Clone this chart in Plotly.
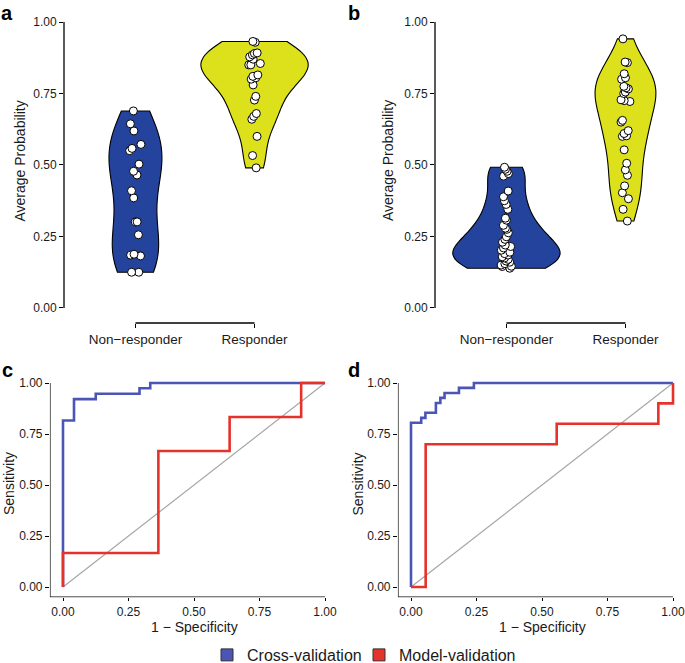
import numpy as np
import plotly.graph_objects as go

# ---------------- data ----------------
groups = ["Non\u2212responder", "Responder"]

a_nonresp = [0.689, 0.644, 0.619, 0.572, 0.558, 0.550, 0.503, 0.478, 0.465, 0.410,
             0.385, 0.301, 0.301, 0.256, 0.188, 0.185, 0.182, 0.125, 0.125]
a_resp = [0.932, 0.929, 0.892, 0.890, 0.885, 0.878, 0.870, 0.855, 0.850, 0.850,
          0.815, 0.810, 0.805, 0.800, 0.780, 0.740, 0.727, 0.680, 0.670, 0.660,
          0.600, 0.533, 0.490]

b_nonresp = [0.492, 0.485, 0.478, 0.470, 0.461, 0.409, 0.389, 0.375, 0.362, 0.345,
             0.314, 0.307, 0.289, 0.279, 0.275, 0.263, 0.249, 0.240, 0.230, 0.220,
             0.215, 0.210, 0.202, 0.195, 0.190, 0.185, 0.179, 0.175, 0.170, 0.164,
             0.160, 0.155, 0.150, 0.146, 0.145, 0.139]
b_resp = [0.941, 0.860, 0.858, 0.819, 0.805, 0.800, 0.775, 0.770, 0.766, 0.755,
          0.750, 0.728, 0.725, 0.722, 0.656, 0.650, 0.620, 0.610, 0.602, 0.600,
          0.553, 0.506, 0.483, 0.464, 0.427, 0.403, 0.382, 0.345, 0.304]

# ROC curves (1 - specificity, sensitivity), step corners
c_cv_fpr = [0.0, 0.0, 0.042, 0.125, 0.292, 0.333, 1.0]
c_cv_tpr = [0.0, 0.816, 0.921, 0.947, 0.974, 1.0, 1.0]
c_mv_fpr = [0.0, 0.0, 0.364, 0.636, 0.909, 1.0]
c_mv_tpr = [0.0, 0.167, 0.667, 0.833, 1.0, 1.0]

d_cv_fpr = [0.0, 0.0, 0.039, 0.055, 0.095, 0.112, 0.128, 0.183, 0.240, 1.0]
d_cv_tpr = [0.0, 0.805, 0.829, 0.854, 0.902, 0.927, 0.951, 0.976, 1.0, 1.0]
d_mv_fpr = [0.0, 0.056, 0.556, 0.944, 1.0]
d_mv_tpr = [0.0, 0.700, 0.800, 0.900, 1.0]

yticks = [0.0, 0.25, 0.5, 0.75, 1.0]
ytick_text = ["0.00", "0.25", "0.50", "0.75", "1.00"]

legend_names = ["Cross-validation", "Model-validation"]

# ---------------- style ----------------
W, H = 685, 663
FONT = "Liberation Sans, Arial, Helvetica, sans-serif"
VBLUE = "#24439C"
VYELLOW = "#DCE11B"
RBLUE = "#4A55B5"
RRED = "#E5322A"
TXT = "#1a1a1a"


def px_x(p):
    return p / W


def px_y(p):
    return 1 - p / H


def nrd0(v):
    v = np.asarray(v, float)
    sd = v.std(ddof=1)
    q75, q25 = np.percentile(v, [75, 25])
    lo = min(sd, (q75 - q25) / 1.34)
    return 0.9 * lo * len(v) ** -0.2


def kde_max(v, bw):
    v = np.asarray(v, float)
    g = np.linspace(v.min(), v.max(), 512)
    d = np.exp(-0.5 * ((g[:, None] - v[None, :]) / bw) ** 2).sum(1)
    return d.max() / (len(v) * bw * np.sqrt(2 * np.pi))


fig = go.Figure()


def add_violins(vals_list, xa, ya):
    bws = [nrd0(v) for v in vals_list]
    mx = [kde_max(v, b) for v, b in zip(vals_list, bws)]
    top = max(mx)
    for i, (v, bw, m) in enumerate(zip(vals_list, bws, mx)):
        w = 0.9 * m / top
        fig.add_trace(go.Violin(
            y=v, x0=i + 1, name=groups[i], xaxis=xa, yaxis=ya,
            width=w, bandwidth=bw, spanmode="hard", scalemode="width",
            fillcolor=[VBLUE, VYELLOW][i], opacity=1,
            line=dict(color="black", width=1.1),
            points="all", pointpos=0, jitter=min(1, 0.11 / w),
            marker=dict(color="white", size=8,
                        line=dict(color="black", width=1)),
            box_visible=False, meanline_visible=False, showlegend=False,
            hoverinfo="y"))


add_violins([a_nonresp, a_resp], "x", "y")
add_violins([b_nonresp, b_resp], "x2", "y2")


def add_roc(cv_f, cv_t, mv_f, mv_t, xa, ya):
    fig.add_trace(go.Scatter(x=[0, 1], y=[0, 1], mode="lines", xaxis=xa, yaxis=ya,
                             line=dict(color="#A6A6A6", width=1.2), showlegend=False,
                             hoverinfo="skip"))
    fig.add_trace(go.Scatter(x=cv_f, y=cv_t, mode="lines", line_shape="hv",
                             xaxis=xa, yaxis=ya, line=dict(color=RBLUE, width=2.6),
                             showlegend=False, name=legend_names[0]))
    fig.add_trace(go.Scatter(x=mv_f, y=mv_t, mode="lines", line_shape="hv",
                             xaxis=xa, yaxis=ya, line=dict(color=RRED, width=2.6),
                             showlegend=False, name=legend_names[1]))


add_roc(c_cv_fpr, c_cv_tpr, c_mv_fpr, c_mv_tpr, "x3", "y3")
add_roc(d_cv_fpr, d_cv_tpr, d_mv_fpr, d_mv_tpr, "x4", "y4")

# legend entries (squares)
for nm, col, lw in [(legend_names[0], RBLUE, 107), (legend_names[1], RRED, 125)]:
    fig.add_trace(go.Bar(x=[None], y=[None], name=nm, xaxis="x3", yaxis="y3",
                         marker=dict(color=col, line=dict(color="#333333", width=1)),
                         legendwidth=lw, showlegend=True))

tickfont = dict(family=FONT, size=12, color=TXT)
common_y = dict(tickvals=yticks, ticktext=ytick_text, ticks="outside", ticklen=4,
                tickwidth=1, tickcolor="black", showgrid=False, zeroline=False,
                showline=False, tickfont=tickfont, fixedrange=True, automargin=False,
                ticklabeloverflow="allow")
roc_x = dict(common_y, ticklen=3)
common_x = dict(tickvals=[1, 2], ticktext=groups, ticks="outside", ticklen=4,
                tickcolor="black", showgrid=False, zeroline=False, showline=False,
                tickfont=dict(family=FONT, size=13.5, color=TXT), automargin=False,
                fixedrange=True, ticklabeloverflow="allow")

vdom_y = [px_y(323), px_y(22)]
rdom_y = [px_y(597.2), px_y(372.8)]

fig.update_layout(
    width=W, height=H, margin=dict(l=0, r=0, t=0, b=0, autoexpand=False),
    paper_bgcolor="white", plot_bgcolor="white",
    font=dict(family=FONT, color=TXT),
    violinmode="overlay", barmode="overlay",
    xaxis=dict(domain=[px_x(64), px_x(326)], range=[0.4, 2.6], anchor="y", **common_x),
    yaxis=dict(domain=vdom_y, range=[-0.0525, 1.0], anchor="x", **common_y),
    xaxis2=dict(domain=[px_x(435), 1.0], range=[0.4, 2.5], anchor="y2", **common_x),
    yaxis2=dict(domain=vdom_y, range=[-0.0525, 1.0], anchor="x2", **common_y),
    xaxis3=dict(domain=[px_x(49.9), px_x(338.1)], range=[-0.05, 1.05], anchor="y3",
                **roc_x),
    yaxis3=dict(domain=rdom_y, range=[-0.05, 1.05], anchor="x3", **common_y),
    xaxis4=dict(domain=[px_x(397.9), px_x(683.5)], range=[-0.05, 1.04], anchor="y4",
                **roc_x),
    yaxis4=dict(domain=rdom_y, range=[-0.05, 1.05], anchor="x4", **common_y),
    legend=dict(orientation="h", x=px_x(207), xanchor="left", y=px_y(655),
                yanchor="middle", font=dict(family=FONT, size=16, color=TXT),
                bgcolor="rgba(0,0,0,0)", traceorder="normal", itemwidth=30),
    showlegend=True,
)

# capped axis lines
axl = dict(color="black", width=1.3)
shapes = []
for xa, ya in [("x", "y"), ("x2", "y2")]:
    shapes.append(dict(type="line", xref=f"{xa} domain", yref=ya, x0=0, x1=0,
                       y0=0, y1=1, line=axl))
    shapes.append(dict(type="line", xref=xa, yref=f"{ya} domain", x0=1, x1=2,
                       y0=0, y1=0, line=axl))
for xa, ya in [("x3", "y3"), ("x4", "y4")]:
    shapes.append(dict(type="line", xref=xa, yref=ya, x0=-0.05, x1=-0.05,
                       y0=-0.05, y1=1, line=axl))
    shapes.append(dict(type="line", xref=xa, yref=ya, x0=-0.05, x1=1,
                       y0=-0.05, y1=-0.05, line=axl))
fig.update_layout(shapes=shapes)

ann = []
titlefont = dict(family=FONT, size=14, color=TXT)
for x, y in [(19.5, 161), (388, 161)]:
    ann.append(dict(text="Average Probability", x=px_x(x), y=px_y(y), xref="paper",
                    yref="paper", showarrow=False, textangle=-90, font=titlefont,
                    xanchor="center", yanchor="middle"))
for x, y in [(9, 484), (357.5, 484)]:
    ann.append(dict(text="Sensitivity", x=px_x(x), y=px_y(y), xref="paper",
                    yref="paper", showarrow=False, textangle=-90, font=titlefont,
                    xanchor="center", yanchor="middle"))
for x, y in [(194, 627), (542, 627)]:
    ann.append(dict(text="1 \u2212 Specificity", x=px_x(x), y=px_y(y), xref="paper",
                    yref="paper", showarrow=False, font=titlefont,
                    xanchor="center", yanchor="middle"))
labfont = dict(family=FONT, size=20, color="black")
for t, x, y in [("a", -1, 12.5), ("b", 346, 12.5), ("c", 0, 370), ("d", 346, 370)]:
    ann.append(dict(text=f"<b>{t}</b>", x=px_x(x), y=px_y(y), xref="paper",
                    yref="paper", showarrow=False, font=labfont,
                    xanchor="left", yanchor="middle"))
fig.update_layout(annotations=ann)

fig.write_html(
    "out.html",
    config={"displayModeBar": False},
    post_script="document.body.style.margin='0';document.body.style.overflow='hidden';",
)
